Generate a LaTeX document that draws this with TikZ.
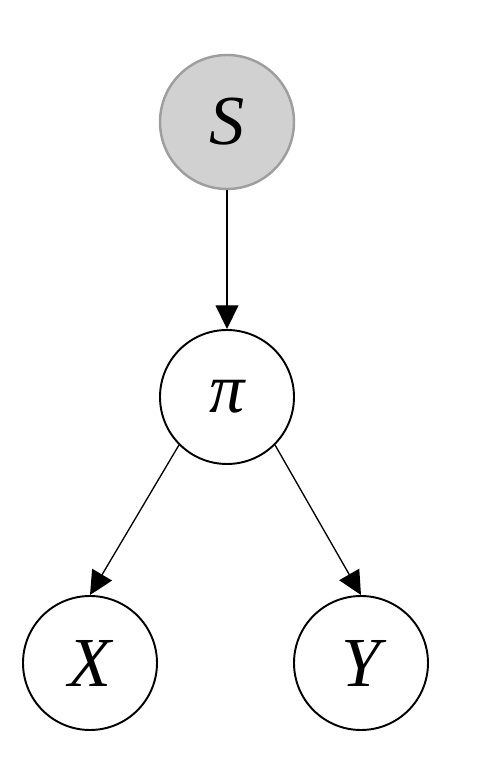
\documentclass[tikz,border=0pt]{standalone}
\usepackage{fontspec}
\setmainfont{Liberation Serif}
\usetikzlibrary{arrows.meta}

\tikzset{
    varnode/.style={circle, draw=black, line width=1.1pt, minimum size=2.68cm, inner sep=0pt,
        font=\fontsize{40}{48}\selectfont\itshape},
    obsnode/.style={varnode, draw=black!38, line width=1.4pt, fill=black!18},
    edge/.style={-{Triangle[length=13.5pt, width=13pt]}, line width=0.75pt}
}

\begin{document}
\begin{tikzpicture}
            % Fix the page size
            \useasboundingbox (0, 0) rectangle (9.88, 15.52);

            % Variables
            \node[obsnode] (S) at (4.54, 13.08) {S};
            \node[varnode] (pi) at (4.54, 7.58) {π};
            \node[varnode] (X) at (1.80, 2.26) {X};
            \node[varnode] (Y) at (7.22, 2.26) {Y};

            % Dependencies
            \draw[edge] (S) -- (pi);
            \draw[edge] (pi.south west) -- (X.north);
            \draw[edge] (pi.south east) -- (Y.north);

        \end{tikzpicture}
\end{document}
